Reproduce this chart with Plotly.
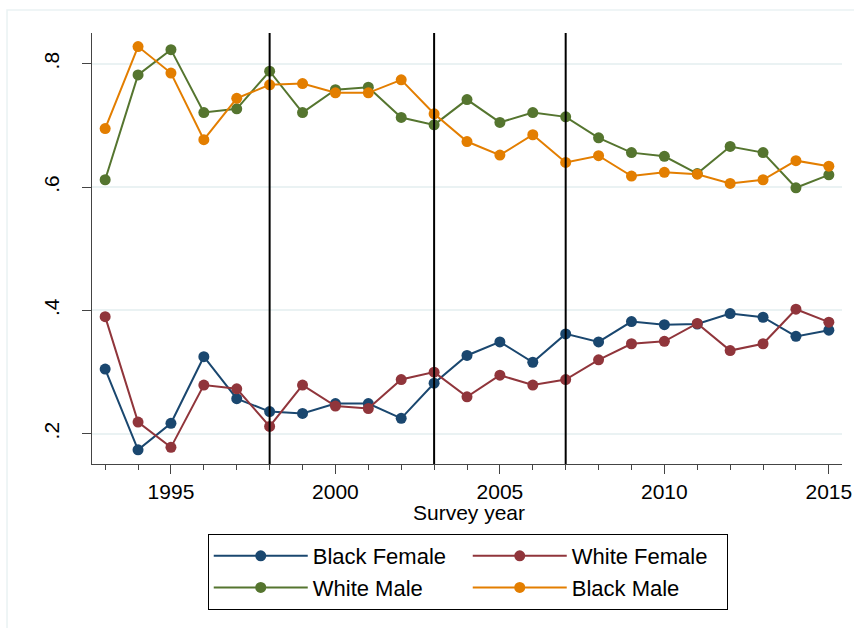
import plotly.graph_objects as go

years = list(range(1993, 2016))

black_female = [0.305, 0.174, 0.217, 0.325, 0.257, 0.236, 0.233, 0.249, 0.249, 0.225, 0.282, 0.327,
                0.349, 0.316, 0.362, 0.349, 0.382, 0.377, 0.378, 0.395, 0.389, 0.358, 0.368]
white_female = [0.390, 0.219, 0.178, 0.279, 0.273, 0.212, 0.279, 0.245, 0.241, 0.288, 0.300, 0.260,
                0.295, 0.279, 0.288, 0.320, 0.346, 0.350, 0.379, 0.335, 0.346, 0.402, 0.381]
white_male = [0.612, 0.782, 0.823, 0.721, 0.727, 0.788, 0.721, 0.758, 0.762, 0.713, 0.701, 0.742,
              0.705, 0.721, 0.714, 0.680, 0.656, 0.650, 0.622, 0.666, 0.656, 0.599, 0.620]
black_male = [0.695, 0.828, 0.785, 0.677, 0.744, 0.766, 0.768, 0.753, 0.753, 0.774, 0.719, 0.674,
              0.652, 0.685, 0.640, 0.651, 0.618, 0.624, 0.621, 0.606, 0.612, 0.643, 0.634]

series_names = ["Black Female", "White Female", "White Male", "Black Male"]
series_values = [black_female, white_female, white_male, black_male]
series_colors = ["#1a476f", "#90353b", "#55752f", "#e37e00"]

vline_years = [1998, 2003, 2007]
y_tick_vals = [0.2, 0.4, 0.6, 0.8]
y_tick_text = [".2", ".4", ".6", ".8"]
x_tick_vals = [1995, 2000, 2005, 2010, 2015]
x_title = "Survey year"

FONT = "Liberation Sans, Arial, Helvetica, sans-serif"

fig = go.Figure()
for name, vals, col in zip(series_names, series_values, series_colors):
    fig.add_trace(go.Scatter(
        x=years, y=vals, name=name, mode="lines+markers",
        line=dict(color=col, width=2),
        marker=dict(color=col, size=11),
    ))

for yr in vline_years:
    fig.add_shape(type="line", xref="x", yref="paper", x0=yr, x1=yr, y0=0, y1=1,
                  line=dict(color="black", width=2), layer="above")

# faint outer graph-region frame (left and top edges)
fig.add_shape(type="rect", xref="paper", yref="paper",
              x0=-0.1133, x1=1.2, y0=1.0534, y1=-1.0,
              line=dict(color="#eaf2f3", width=1.5), layer="below")

fig.add_annotation(text=x_title, xref="paper", yref="paper", x=0.503, y=-0.112,
                   xanchor="center", yanchor="middle", showarrow=False,
                   font=dict(family=FONT, size=21, color="black"))

fig.update_layout(
    width=854, height=628,
    margin=dict(l=92, r=12, t=33, b=164),
    paper_bgcolor="white", plot_bgcolor="white",
    font=dict(family=FONT, size=21, color="black"),
    showlegend=True,
    legend=dict(
        orientation="h", x=0.501, xanchor="center", y=-0.1624, yanchor="top",
        bordercolor="black", borderwidth=1, bgcolor="white",
        font=dict(family=FONT, size=22, color="black"),
        entrywidth=150, entrywidthmode="pixels", itemwidth=94,
        traceorder="normal",
    ),
    xaxis=dict(
        range=[1992.6, 2015.4], tickvals=x_tick_vals, ticks="outside", ticklen=9,
        tickcolor="#444", showline=True, linecolor="#444", linewidth=1,
        showgrid=False, zeroline=False, automargin=False,
        minor=dict(dtick=1, ticks="outside", ticklen=5, tickcolor="#444", showgrid=False),
        tickfont=dict(size=21),
    ),
    yaxis=dict(
        range=[0.151, 0.85], tickvals=y_tick_vals, ticktext=y_tick_text,
        ticks="outside", ticklen=9, tickcolor="#444", tickangle=-90,
        ticklabelstandoff=15, automargin=False,
        showline=True, linecolor="#444", linewidth=1,
        showgrid=True, gridcolor="#eaf2f3", gridwidth=1.5, zeroline=False,
        tickfont=dict(size=21),
    ),
)

# place the 854x628 figure flush with the page corner (no default body margin)
fig.write_html("out.html", config={"displayModeBar": False},
               post_script="document.body.style.margin='0';")
